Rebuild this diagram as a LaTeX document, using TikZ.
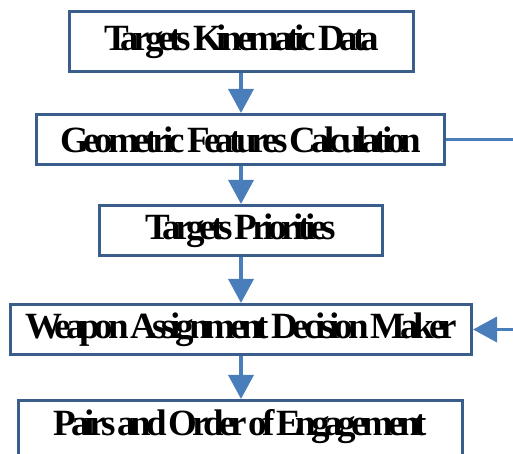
\documentclass[tikz,border=0pt]{standalone}
\usepackage{fontspec}
\setmainfont{Liberation Serif}
\newfontfamily\boxfont{Liberation Serif}[LetterSpace=-14,WordSpace=0.5]
\usetikzlibrary{arrows.meta}
\definecolor{boxcol}{RGB}{58,94,140}
\definecolor{arrcol}{RGB}{74,126,187}
\begin{document}
\begin{tikzpicture}[x=1pt,y=1pt,
    stage/.style={draw=boxcol,line width=3pt,rectangle,inner sep=0pt,minimum height=50pt,
      font=\boxfont\bfseries\fontsize{37}{42}\selectfont},
    flow/.style={draw=arrcol,line width=3.5pt,-{Triangle[width=25pt,length=24pt]}}]
  \useasboundingbox (0,0) rectangle (513,454);
  \node (Kin) at (241.5,412.5) [stage,minimum width=344pt,minimum height=60pt] {Targets Kinematic Data};
  \node (Geo) at (240.5,314.5) [stage,minimum width=408pt] {Geometric Features Calculation};
  \node (Pri) at (241,223.5) [stage,minimum width=283pt] {Targets Priorities};
  \node (Wa) at (241,124.5) [stage,minimum width=461pt] {Weapon Assignment Decision Maker};
  \node (Pairs) at (240.5,22.5) [stage,minimum width=444pt,minimum height=62pt,
    text height=24pt,text depth=16pt] {Pairs and Order of Engagement};
  \coordinate (GeoOut) at (513,314.5);
  \coordinate (WaIn) at (513,124.5);
  \draw [flow] (241,0 |- Kin.south) -- (241,0 |- Geo.north);
  \draw [flow] (241,0 |- Geo.south) -- (241,0 |- Pri.north);
  \draw [flow] (241,0 |- Pri.south) -- (241,0 |- Wa.north);
  \draw [flow] (241,0 |- Wa.south) -- (241,0 |- Pairs.north);
  \draw [draw=arrcol,line width=3pt] (Geo.east) -- (GeoOut);
  \draw [flow] (WaIn) -- (Wa.east);
\end{tikzpicture}
\end{document}
